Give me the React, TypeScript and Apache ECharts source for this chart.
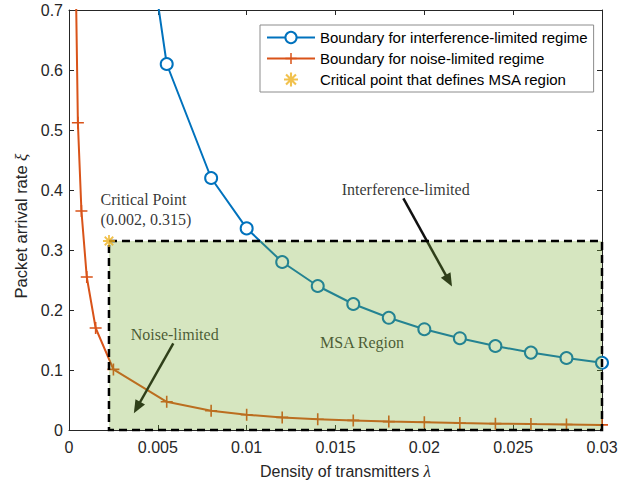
import React, { useEffect, useRef } from "react";
import * as echarts from "echarts";

// ---- data ----
const interfX = [0.003, 0.0055, 0.008, 0.01, 0.012, 0.014, 0.016, 0.018, 0.02, 0.022, 0.024, 0.026, 0.028, 0.03];
const interfY = [1.12, 0.61, 0.42, 0.336, 0.28, 0.24, 0.21, 0.187, 0.168, 0.153, 0.14, 0.129, 0.12, 0.112];

const noiseX = [0.00025, 0.0005, 0.0007, 0.001, 0.0015, 0.0025, 0.0055, 0.008, 0.01, 0.012, 0.014, 0.016, 0.018, 0.02, 0.022, 0.024, 0.026, 0.028, 0.03];
const noiseY = [1.02, 0.512, 0.365, 0.255, 0.17, 0.101, 0.047, 0.032, 0.0255, 0.021, 0.018, 0.016, 0.014, 0.0128, 0.0116, 0.0106, 0.0098, 0.0091, 0.0085];

const criticalPoint = [0.00225, 0.315];
const msaRegion = { x0: 0.00225, y0: 0, x1: 0.03, y1: 0.315 };

const xTickLabels = ["0", "0.005", "0.01", "0.015", "0.02", "0.025", "0.03"];
const yTickLabels = ["0", "0.1", "0.2", "0.3", "0.4", "0.5", "0.6", "0.7"];

const seriesNames = [
  "Boundary for interference-limited regime",
  "Boundary for noise-limited regime",
  "Critical point that defines MSA region",
];

const annotationTexts = ["Critical Point\n(0.002, 0.315)", "Interference-limited", "Noise-limited", "MSA Region"];
const annotationAnchors = [
  [0.00178, 0.3667],
  [0.01535, 0.4012],
  [0.00347, 0.16],
  [0.01413, 0.1455],
];
const arrows = [
  { from: [0.01882, 0.386], to: [0.02138, 0.2488] },
  { from: [0.00587, 0.1445], to: [0.00383, 0.0375] },
];

const BLUE = "#0072BD";
const ORANGE = "#D95319";
const YELLOW = "#EDB120";
const AXIS = "#262626";

const plusPath = "path://M-6,-0.8L6,-0.8L6,0.8L-6,0.8Z M-0.8,-6L0.8,-6L0.8,6L-0.8,6Z";
const starPath =
  "path://M-6,-0.9L6,-0.9L6,0.9L-6,0.9Z " +
  "M-3.607,-4.879L4.879,3.607L3.607,4.879L-4.879,-3.607Z " +
  "M0.9,-6L0.9,6L-0.9,6L-0.9,-6Z " +
  "M4.879,-3.607L-3.607,4.879L-4.879,3.607L3.607,-4.879Z";

export default function App() {
  const ref = useRef<HTMLDivElement>(null);
  useEffect(() => {
    if (!ref.current) return;
    const chart = echarts.init(ref.current, undefined, { renderer: "svg" });
    const sans = "'Liberation Sans', Arial, sans-serif";
    const serif = "'Liberation Serif', 'Times New Roman', serif";
    const baseAxis = {
      type: "value" as const,
      axisLine: { show: true, onZero: false, lineStyle: { color: AXIS, width: 1 } },
      axisTick: { show: true, inside: true, length: 5, lineStyle: { color: AXIS, width: 1 } },
      splitLine: { show: false },
    };
    chart.setOption({
      animation: false,
      backgroundColor: "#ffffff",
      grid: { left: 69, right: 39, top: 10, bottom: 55 },
      legend: {
        data: seriesNames,
        orient: "vertical",
        left: 260,
        top: 25,
        padding: [5, 6, 5, 6],
        itemWidth: 48,
        itemHeight: 14,
        itemGap: 6,
        backgroundColor: "#ffffff",
        borderColor: "#8c8c8c",
        borderWidth: 1,
        textStyle: { fontFamily: sans, fontSize: 15, color: "#000" },
        selectedMode: false,
      },
      xAxis: [
        {
          ...baseAxis,
          position: "bottom",
          min: 0,
          max: 0.03,
          interval: 0.005,
          axisLabel: {
            margin: 9,
            fontFamily: sans,
            fontSize: 16,
            color: AXIS,
            formatter: (v: number) => xTickLabels[Math.round(v / 0.005)] ?? "",
          },
          name: "Density of transmitters {i|λ}",
          nameLocation: "middle",
          nameGap: 33,
          nameTextStyle: {
            fontFamily: sans,
            fontSize: 16,
            color: AXIS,
            padding: [0, 0, 0, 20],
            rich: { i: { fontFamily: serif, fontStyle: "italic", fontSize: 17, color: AXIS } },
          },
        },
        {
          ...baseAxis,
          position: "top",
          min: 0,
          max: 0.03,
          interval: 0.005,
          axisLabel: { show: false },
        },
      ],
      yAxis: [
        {
          ...baseAxis,
          position: "left",
          min: 0,
          max: 0.7,
          interval: 0.1,
          axisLabel: {
            margin: 6,
            fontFamily: sans,
            fontSize: 16,
            color: AXIS,
            formatter: (v: number) => yTickLabels[Math.round(v / 0.1)] ?? "",
          },
          name: "Packet arrival rate {i|ξ}",
          nameLocation: "middle",
          nameGap: 33,
          nameTextStyle: {
            fontFamily: sans,
            fontSize: 16.5,
            color: AXIS,
            padding: [0, 12, 0, 0],
            rich: { i: { fontFamily: serif, fontStyle: "italic", fontSize: 17, color: AXIS } },
          },
        },
        {
          ...baseAxis,
          position: "right",
          min: 0,
          max: 0.7,
          interval: 0.1,
          axisLabel: { show: false },
        },
      ],
      series: [
        {
          name: seriesNames[0],
          type: "line",
          xAxisIndex: 0,
          yAxisIndex: 0,
          data: interfX.map((x, i) => [x, interfY[i]]),
          color: BLUE,
          symbol: "emptyCircle",
          symbolSize: 12,
          showAllSymbol: true,
          itemStyle: { color: BLUE, borderWidth: 2 },
          lineStyle: { color: BLUE, width: 2 },
          clip: true,
          silent: true,
          z: 2,
        },
        {
          name: seriesNames[1],
          type: "line",
          xAxisIndex: 0,
          yAxisIndex: 0,
          data: noiseX.map((x, i) => [x, noiseY[i]]),
          color: ORANGE,
          symbol: plusPath,
          symbolSize: 12,
          showAllSymbol: true,
          itemStyle: { color: ORANGE },
          lineStyle: { color: ORANGE, width: 2 },
          clip: true,
          silent: true,
          z: 2,
        },
        {
          name: "annotations",
          type: "scatter",
          xAxisIndex: 0,
          yAxisIndex: 0,
          symbolSize: 0,
          silent: true,
          z: 3,
          data: annotationAnchors.map((a, i) => [a[0], a[1], annotationTexts[i]]),
          label: {
            show: true,
            position: "right",
            distance: 0,
            fontFamily: serif,
            fontSize: 16,
            lineHeight: 20,
            color: "#000",
            formatter: (p: any) => p.data[2],
          },
          markLine: {
            silent: true,
            z: 3,
            symbol: ["none", "triangle"],
            symbolSize: [11, 13],
            label: { show: false },
            lineStyle: { color: "#111", width: 2.5, type: "solid" },
            data: arrows.map((a) => [{ coord: a.from }, { coord: a.to }]),
          },
        },
        {
          name: "msa",
          type: "line",
          xAxisIndex: 0,
          yAxisIndex: 0,
          data: [],
          silent: true,
          z: 10,
          markArea: {
            silent: true,
            z: 10,
            itemStyle: {
              color: "rgba(119,172,48,0.3)",
              borderColor: "#000",
              borderWidth: 2.5,
              borderType: [8, 5],
            },
            label: { show: false },
            data: [[{ coord: [msaRegion.x0, msaRegion.y1] }, { coord: [msaRegion.x1, msaRegion.y0] }]],
          },
        },
        {
          name: seriesNames[2],
          type: "scatter",
          xAxisIndex: 0,
          yAxisIndex: 0,
          data: [criticalPoint],
          symbol: starPath,
          symbolSize: 12,
          itemStyle: { color: YELLOW },
          color: YELLOW,
          silent: true,
          z: 12,
        },
      ],
    });
    return () => chart.dispose();
  }, []);
  return <div ref={ref} style={{ position: "fixed", left: 0, top: 0, width: 641, height: 485 }} />;
}
